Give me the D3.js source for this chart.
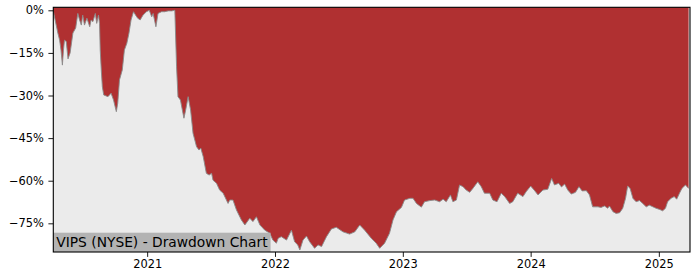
<!DOCTYPE html>
<html><head><meta charset="utf-8">
<script src="https://cdn.jsdelivr.net/npm/d3@7"></script>
<style>body{margin:0;background:#fff}svg{display:block;font-family:"DejaVu Sans",sans-serif}</style>
</head><body><svg id="c" width="700" height="280"></svg>
<script>
const title = "VIPS (NYSE) - Drawdown Chart";
const yTicks = [0, -15, -30, -45, -60, -75];
const xTickYears = [2021, 2022, 2023, 2024, 2025];
const dates = [
"2020-04-08","2020-04-12","2020-04-21","2020-04-26","2020-04-30","2020-05-04","2020-05-07","2020-05-10","2020-05-15","2020-05-20",
"2020-05-26","2020-06-03","2020-06-11","2020-06-17","2020-06-22","2020-06-27","2020-07-01","2020-07-06","2020-07-13","2020-07-21",
"2020-07-25","2020-07-30","2020-08-06","2020-08-10","2020-08-15","2020-08-18","2020-08-20","2020-08-23","2020-08-26","2020-08-30",
"2020-09-11","2020-09-20","2020-09-27","2020-10-05","2020-10-09","2020-10-14","2020-10-22","2020-10-28","2020-11-04","2020-11-10",
"2020-11-16","2020-11-23","2020-11-29","2020-12-05","2020-12-12","2020-12-20","2020-12-30","2021-01-07","2021-01-14","2021-01-18",
"2021-01-26","2021-02-01","2021-02-11","2021-02-20","2021-03-02","2021-03-12","2021-03-21","2021-03-26","2021-03-30","2021-04-06",
"2021-04-16","2021-04-21","2021-04-28","2021-05-05","2021-05-12","2021-05-22","2021-05-29","2021-06-03","2021-06-10","2021-06-19",
"2021-06-27","2021-07-04","2021-07-08","2021-07-18","2021-07-27","2021-08-06","2021-08-20","2021-08-25","2021-09-03","2021-09-13",
"2021-09-27","2021-10-07","2021-10-21","2021-10-30","2021-11-09","2021-11-19","2021-12-03","2021-12-17","2021-12-26","2022-01-05",
"2022-01-10","2022-01-19","2022-02-03","2022-02-17","2022-02-26","2022-03-07","2022-03-13","2022-03-22","2022-04-01","2022-04-10",
"2022-04-24","2022-05-04","2022-05-14","2022-05-28","2022-06-11","2022-06-25","2022-07-14","2022-08-02","2022-08-17","2022-08-31",
"2022-09-14","2022-10-03","2022-10-17","2022-10-27","2022-11-10","2022-11-24","2022-12-04","2022-12-14","2022-12-28","2023-01-06",
"2023-01-21","2023-01-30","2023-02-09","2023-02-23","2023-03-04","2023-03-19","2023-04-02","2023-04-16","2023-04-26","2023-05-05",
"2023-05-17","2023-05-24","2023-06-03","2023-06-12","2023-06-22","2023-07-01","2023-07-11","2023-07-20","2023-08-03","2023-08-13",
"2023-08-22","2023-09-06","2023-09-15","2023-09-27","2023-10-09","2023-10-19","2023-11-02","2023-11-11","2023-11-25","2023-12-10",
"2023-12-19","2024-01-01","2024-01-11","2024-01-22","2024-02-05","2024-02-19","2024-03-01","2024-03-09","2024-03-21","2024-03-29",
"2024-04-07","2024-04-16","2024-04-26","2024-05-08","2024-05-18","2024-05-27","2024-06-08","2024-06-17","2024-06-26","2024-07-11",
"2024-07-20","2024-07-30","2024-08-08","2024-08-13","2024-08-23","2024-09-01","2024-09-11","2024-09-20","2024-09-28","2024-10-04",
"2024-10-11","2024-10-19","2024-10-28","2024-11-07","2024-11-16","2024-11-26","2024-12-05","2024-12-15","2024-12-24","2025-01-03",
"2025-01-12","2025-01-20","2025-01-26","2025-02-05","2025-02-14","2025-02-21","2025-03-01","2025-03-08","2025-03-18","2025-03-27"
];
const drawdown = [
-0.2,-2.7,-8.0,-10.5,-14.0,-19.3,-14.0,-10.5,-11.0,-17.1,
-15.0,-8.0,-6.2,-1.1,-3.4,-5.2,-1.7,-5.2,-2.8,-5.8,
-3.4,-4.0,-1.1,-4.6,-1.7,-4.6,-14.0,-21.0,-26.9,-29.8,
-30.4,-29.2,-31.6,-35.7,-32.7,-24.5,-21.0,-14.0,-11.6,-8.1,
-3.4,-0.5,-1.7,-2.8,-3.4,-1.7,-0.5,0.0,-2.3,-1.1,
-5.8,-1.1,-0.5,-0.5,-0.2,-0.2,0.0,-19.9,-30.4,-31.6,
-38.0,-35.1,-30.4,-35.1,-43.3,-48.0,-49.2,-48.5,-51.5,-57.4,
-58.0,-57.4,-59.8,-60.9,-63.3,-64.4,-68.0,-66.8,-66.8,-70.3,
-73.8,-75.6,-73.2,-74.4,-72.7,-75.6,-77.4,-78.5,-80.9,-82.0,
-80.3,-79.7,-80.9,-77.4,-81.5,-82.6,-84.4,-80.9,-79.5,-81.5,
-83.8,-82.6,-83.2,-79.7,-77.0,-76.4,-78.0,-78.8,-78.0,-75.6,
-77.4,-80.3,-82.0,-83.8,-82.0,-78.5,-73.8,-70.9,-69.4,-66.8,
-66.2,-66.2,-68.0,-69.3,-67.4,-67.0,-66.8,-67.4,-66.5,-67.4,
-65.0,-67.4,-66.8,-61.5,-62.1,-63.3,-64.1,-62.7,-60.4,-62.1,
-64.4,-64.4,-66.8,-67.4,-64.4,-65.6,-68.0,-67.4,-64.4,-65.6,
-63.9,-61.9,-63.3,-65.0,-63.3,-63.0,-59.2,-61.5,-60.9,-62.2,
-61.2,-63.3,-64.7,-64.1,-62.1,-63.6,-63.5,-65.0,-69.2,-69.2,
-69.4,-68.9,-69.7,-68.9,-70.9,-71.5,-71.3,-69.7,-66.2,-61.9,
-62.7,-66.2,-67.4,-67.0,-68.0,-69.2,-68.6,-69.2,-69.7,-70.1,
-70.6,-69.7,-67.4,-66.2,-65.6,-66.5,-64.4,-62.7,-61.5,-62.7
];
const xDomain = ["2020-04-08", "2025-03-31"];
const yDomain = [-85.1, 1.06];

const parse = d3.utcParse("%Y-%m-%d");
const data = dates.map((d, i) => ({date: parse(d), v: drawdown[i]}));

const L = 53.3, R = 690, T = 7.3, B = 252;
const svg = d3.select("#c");
const x = d3.scaleUtc().domain(xDomain.map(parse)).range([L, R]);
const y = d3.scaleLinear().domain(yDomain).range([B, T]);

svg.append("rect").attr("x", L).attr("y", T).attr("width", R - L).attr("height", B - T).attr("fill", "#ebebeb");

svg.append("path").datum(data)
  .attr("fill", "#b03031")
  .attr("d", d3.area().x(d => x(d.date)).y0(T).y1(d => y(d.v)));
svg.append("path").datum(data)
  .attr("fill", "none").attr("stroke", "#8a8a8a").attr("stroke-width", 0.9)
  .attr("d", d3.line().x(d => x(d.date)).y(d => y(d.v)));

// title box
const g = svg.append("g");
const txt = g.append("text").attr("x", L + 3).attr("y", 247.3)
  .attr("font-size", "13.8px").attr("fill", "#000").text(title);
const tw = txt.node().getComputedTextLength();
g.insert("rect", "text").attr("x", L).attr("y", 232.7).attr("width", tw + 6).attr("height", B - 232.7).attr("fill", "#b3b3b3");

// axes
const fmt = v => (v < 0 ? "\u2212" + Math.abs(v) : v) + "%";
const ya = svg.append("g").attr("transform", `translate(${L},0)`)
  .call(d3.axisLeft(y).tickValues(yTicks).tickFormat(fmt).tickSize(4.9).tickPadding(4.5));
const xa = svg.append("g").attr("transform", `translate(0,${B})`)
  .call(d3.axisBottom(x).tickValues(xTickYears.map(yr => new Date(Date.UTC(yr, 0, 1)))).tickFormat(d3.utcFormat("%Y")).tickSize(4.9).tickPadding(3.5));
[ya, xa].forEach(a => {
  a.select(".domain").remove();
  a.selectAll("text").attr("font-size", "11.4px").attr("font-family", "DejaVu Sans").attr("fill", "#000");
  a.selectAll("line").attr("stroke", "#000").attr("stroke-width", 0.9);
});

svg.append("rect").attr("x", L).attr("y", T).attr("width", R - L).attr("height", B - T)
  .attr("fill", "none").attr("stroke", "#000").attr("stroke-width", 1.1);
</script></body></html>
